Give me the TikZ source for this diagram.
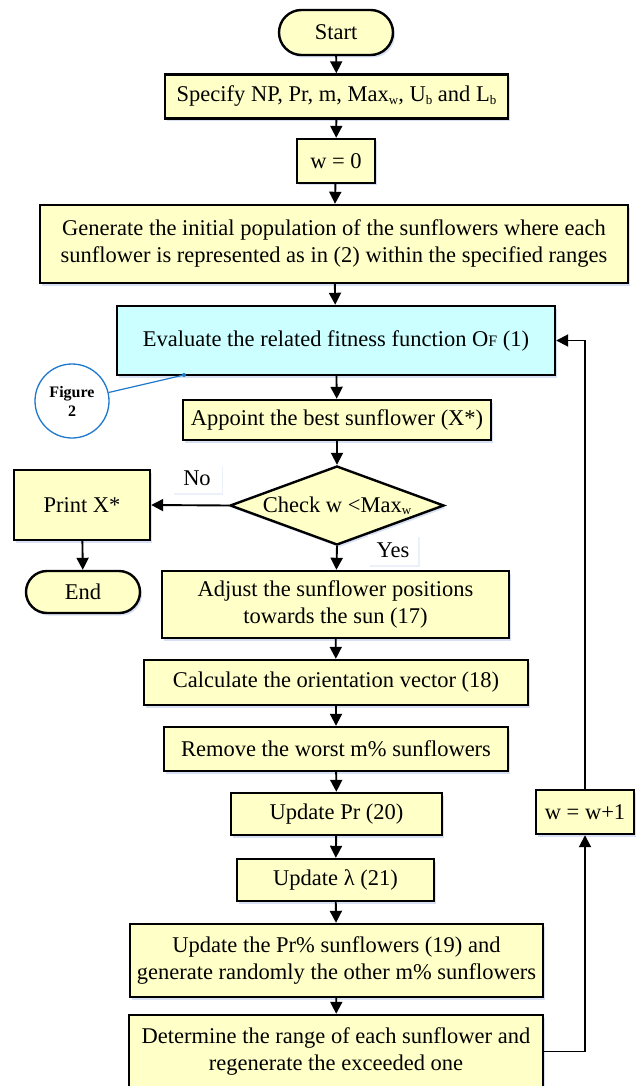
\documentclass[tikz,border=0pt]{standalone}
\usepackage{fontspec}
\setmainfont{Liberation Serif}
\usetikzlibrary{arrows.meta,shapes.geometric,shapes.misc,shadows}
\definecolor{boxyellow}{RGB}{255,255,200}
\definecolor{boxcyan}{RGB}{204,255,255}
\definecolor{callblue}{RGB}{30,120,205}
\definecolor{shade}{RGB}{190,205,235}
\newcommand{\sbs}[1]{\raisebox{-0.22ex}{\fontsize{13}{13}\selectfont #1}}
\begin{document}
\begin{tikzpicture}[x=1pt,y=-1pt,
  every node/.style={font=\fontsize{22.5}{27}\selectfont, inner sep=0pt},
  soft/.style={drop shadow={shadow xshift=2pt,shadow yshift=-2.5pt,fill=shade,opacity=0.6}},
  faint/.style={drop shadow={shadow xshift=1.5pt,shadow yshift=-1.5pt,fill=shade,opacity=0.3}},
  proc/.style={draw,line width=2.4pt,fill=boxyellow,align=center,soft},
  term/.style={rounded rectangle,draw,line width=2.4pt,fill=boxyellow,soft},
  arr/.style={line width=1.9pt,-{Triangle[length=12pt,width=12pt]}},
  tag/.style={fill=white,faint},
  decision/.style={diamond,draw,line width=2.4pt,fill=boxyellow,soft}
]
\useasboundingbox (0,0) rectangle (641,1086);

% main column
\node[term,minimum width=114pt,minimum height=45pt] (start) at (336,32.5) {Start};
\node[proc,minimum width=343pt,minimum height=44pt] (spec) at (336.5,96.5)
  {Specify NP, Pr, m, Max\sbs{w}, U\sbs{b} and L\sbs{b}};
\node[proc,minimum width=78pt,minimum height=44pt] (w0) at (336,161) {w = 0};
\node[proc,minimum width=588pt,minimum height=78pt] (gen) at (334,244)
  {Generate the initial population of the sunflowers where each\\sunflower is represented as in (2) within the specified ranges};
\node[proc,fill=boxcyan,minimum width=438pt,minimum height=69pt] (eval) at (336,340.5)
  {Evaluate the related fitness function O{\fontsize{16}{16}\selectfont F} (1)};
\node[proc,minimum width=308pt,minimum height=40pt] (appoint) at (337,420)
  {Appoint the best sunflower (X*)};
\node[decision,minimum width=214pt,minimum height=79pt] (chk) at (337,505.5) {};
\node (chktext) at (chk.center) {Check w <Max\sbs{w}};
\node[proc,minimum width=347pt,minimum height=67pt] (adjust) at (335.5,604.5)
  {Adjust the sunflower positions\\towards the sun (17)};
\node[proc,minimum width=384pt,minimum height=45pt] (calc) at (336,682.5)
  {Calculate the orientation vector (18)};
\node[proc,minimum width=344pt,minimum height=44pt] (remove) at (336,749)
  {Remove the worst m\% sunflowers};
\node[proc,minimum width=211pt,minimum height=42pt] (updpr) at (336.5,814) {Update Pr (20)};
\node[proc,minimum width=197pt,minimum height=42pt] (updlam) at (335.5,880) {Update λ (21)};
\node[proc,minimum width=413pt,minimum height=73pt] (updm) at (336.5,960.5)
  {Update the Pr\% sunflowers (19) and\\generate randomly the other m\% sunflowers};
\node[proc,minimum width=414pt,minimum height=73pt] (det) at (336,1051.5)
  {Determine the range of each sunflower and\\regenerate the exceeded one};

% exit branch
\node[proc,minimum width=136pt,minimum height=70pt] (print) at (82,505) {Print X*};
\node[term,minimum width=114pt,minimum height=42pt] (end) at (83,592) {End};

% loop counter
\node[proc,minimum width=98pt,minimum height=44pt] (w1) at (585,812) {w = w+1};

% branch labels
\node[tag,minimum width=49pt,minimum height=29pt] (no) at (197,478.5) {No};
\node[tag,minimum width=50pt,minimum height=30pt] (yes) at (393,550) {Yes};

% callout
\node[circle,draw=callblue,line width=1.3pt,fill=white,minimum size=74pt,align=center,
  font=\fontsize{16}{19}\selectfont\bfseries] (fig) at (72,401) {Figure\\2};
\coordinate (pin) at (184,375);
\draw[callblue,line width=1.2pt] (fig) -- (pin);
\fill[callblue] (pin) circle (2pt);

% connectors
\draw[arr] (start) -- (spec);
\draw[arr] (spec) -- (w0);
\draw[arr] (w0) -- (gen);
\draw[arr] (gen) -- (eval);
\draw[arr] (eval) -- (appoint);
\draw[arr] (appoint) -- (chk);
\draw[arr] (chk.west) -- (print.east);
\draw[arr] (print) -- (end);
\draw[arr] (chk.south) -- (adjust);
\draw[arr] (adjust) -- (calc);
\draw[arr] (calc) -- (remove);
\draw[arr] (remove) -- (updpr);
\draw[arr] (updpr) -- (updlam);
\draw[arr] (updlam) -- (updm);
\draw[arr] (updm) -- (det);
\draw[arr] (det.east) -| (w1.south);
\draw[arr] (w1.north) |- (eval.east);
\end{tikzpicture}
\end{document}
